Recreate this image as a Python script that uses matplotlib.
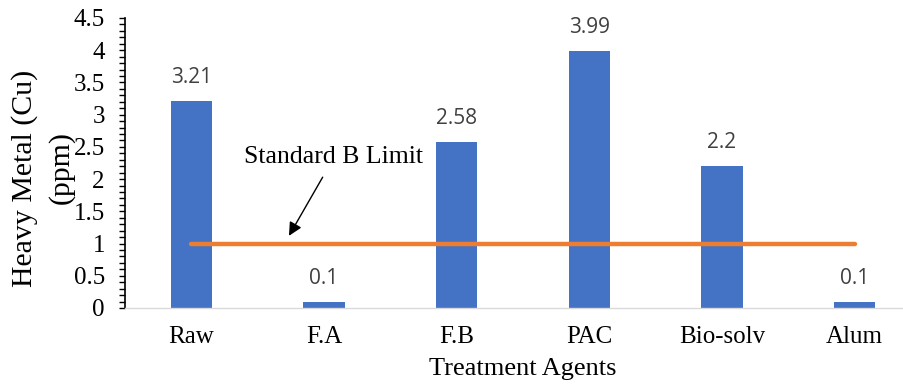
import matplotlib
matplotlib.use("Agg")
import matplotlib.pyplot as plt
from matplotlib.ticker import MultipleLocator

agents = ["Raw", "F.A", "F.B", "PAC", "Bio-solv", "Alum"]
cu_ppm = [3.21, 0.1, 2.58, 3.99, 2.2, 0.1]
limit_b = [1, 1, 1, 1, 1, 1]

serif = "Liberation Serif"
bar_color = "#4472C4"
line_color = "#ED7D31"

fig = plt.figure(figsize=(9.04, 3.85), dpi=100)
ax = fig.add_axes([125 / 904, 1 - 308 / 385, 796 / 904, 290 / 385])

x = range(len(agents))
ax.bar(x, cu_ppm, width=0.31, color=bar_color, zorder=2)
ax.plot(x, limit_b, color=line_color, lw=3.2, solid_capstyle="round", zorder=3)

# value labels above each bar
for xi, v in zip(x, cu_ppm):
    ax.annotate(f"{v:g}", (xi, v), xytext=(0, 13), textcoords="offset points",
                ha="center", va="baseline", fontsize=15, color="#404040",
                family="Open Sans")

ax.text(1.07, 2.34, "Standard B Limit", ha="center", va="center",
        fontsize=18.5, family=serif)
ax.annotate("", xy=(0.736, 1.12), xytext=(0.99, 2.03),
            arrowprops=dict(arrowstyle="-|>", color="black", lw=1,
                            mutation_scale=20, shrinkA=0, shrinkB=0))

ax.set_xlim(-0.5, 5.5)
ax.set_ylim(0, 4.5)
ax.yaxis.set_major_locator(MultipleLocator(0.5))
ax.yaxis.set_minor_locator(MultipleLocator(0.1))
ax.tick_params(axis="y", which="both", direction="out", length=4.5, width=1,
               labelsize=18, pad=10)
ax.tick_params(axis="x", length=0, labelsize=18, pad=13)
ax.set_yticklabels([f"{t:g}" for t in ax.get_yticks()], family=serif)
ax.set_xticks(list(x))
ax.set_xticklabels(agents, family=serif)

for s in ("top", "right"):
    ax.spines[s].set_visible(False)
ax.spines["left"].set_color("black")
ax.spines["left"].set_linewidth(1.2)
ax.spines["bottom"].set_color("#D9D9D9")
ax.spines["bottom"].set_linewidth(1)

ax.set_xlabel("Treatment Agents", fontsize=19, family=serif, labelpad=7)

# two-line y label, placed as separate lines
fig.text(25 / 904, 1 - 178 / 385, "Heavy Metal (Cu)", rotation=90,
         ha="center", va="center", fontsize=21.5, family=serif)
fig.text(61 / 904, 1 - 167 / 385, "(ppm)", rotation=90,
         ha="center", va="center", fontsize=21.5, family=serif)

fig.savefig("out.png", dpi=100)
